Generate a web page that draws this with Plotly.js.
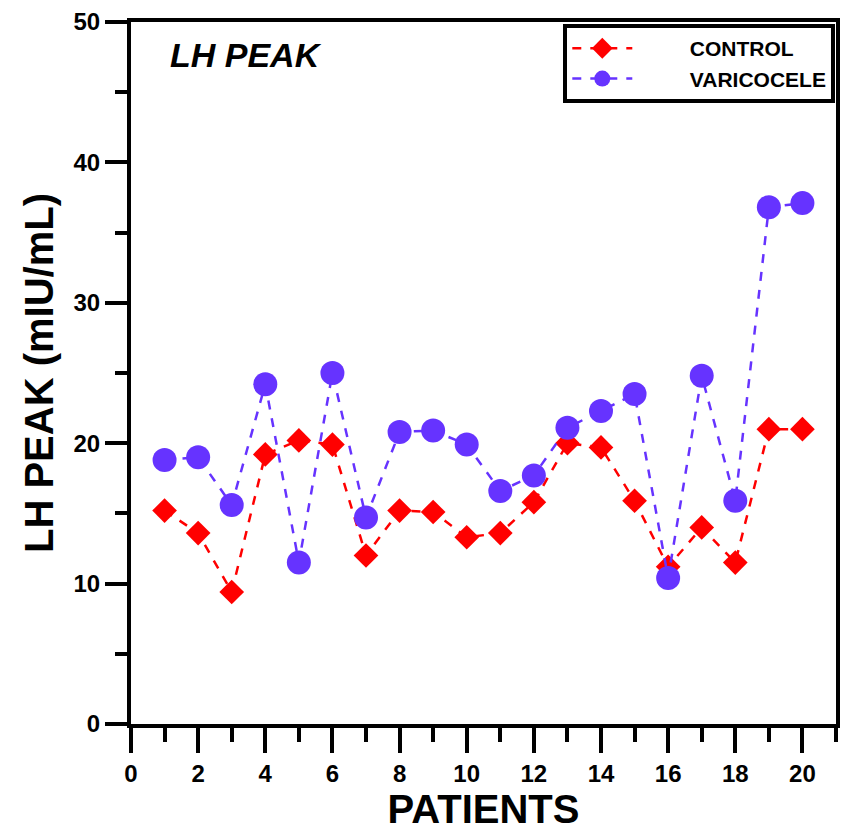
<!DOCTYPE html>
<html><head><meta charset="utf-8">
<script src="https://cdn.plot.ly/plotly-3.0.1.min.js"></script>
<style>html,body{margin:0;padding:0;background:#fff}#c{width:843px;height:831px}</style>
</head><body><div id="c"></div>
<script>
const patients = [1,2,3,4,5,6,7,8,9,10,11,12,13,14,15,16,17,18,19,20];
const control = [15.2,13.6,9.4,19.2,20.2,19.9,12.0,15.2,15.1,13.3,13.6,15.8,20.0,19.7,15.9,11.2,14.0,11.5,21.0,21.0];
const varicocele = [18.8,19.0,15.6,24.2,11.5,25.0,14.7,20.8,20.9,19.9,16.6,17.7,21.1,22.3,23.5,10.4,24.8,15.9,36.8,37.1];
const xTicks = [0,2,4,6,8,10,12,14,16,18,20];
const yTicks = [0,10,20,30,40,50];
const seriesNames = ['CONTROL', 'VARICOCELE'];

const F = "Arial, 'Liberation Sans', sans-serif";
const pad = '\u00a0'.repeat(9);
const traces = [
  {x: patients, y: control, name: pad + seriesNames[0], type: 'scatter', mode: 'lines+markers',
   line: {color: '#ff0000', width: 2.5, dash: 'dash'},
   marker: {symbol: 'diamond', size: 19, color: '#ff0000'}},
  {x: patients, y: varicocele, name: pad + seriesNames[1], type: 'scatter', mode: 'lines+markers',
   line: {color: '#6633ff', width: 2.5, dash: 'dash'},
   marker: {symbol: 'circle', size: 24, color: '#6633ff'}}
];
const layout = {
  width: 843, height: 831,
  margin: {l: 131, r: 7, t: 22, b: 107},
  paper_bgcolor: '#fff', plot_bgcolor: '#fff',
  font: {family: F, color: '#000'},
  showlegend: true,
  legend: {x: 0.999, y: 0.997, xanchor: 'right', yanchor: 'top',
    bordercolor: '#000', borderwidth: 4, bgcolor: '#fff',
    font: {family: F, size: 21, color: '#000', weight: 'bold'},
    itemwidth: 60, tracegroupgap: 0},
  xaxis: {range: [0, 21], tickvals: xTicks, ticktext: xTicks.map(String),
    showgrid: false, zeroline: false, showline: true, linewidth: 4, linecolor: '#000',
    mirror: true, ticks: 'outside', ticklen: 25, tickwidth: 4, tickcolor: '#000',
    minor: {dtick: 1, ticks: 'outside', ticklen: 14, tickwidth: 4, tickcolor: '#000', showgrid: false},
    tickfont: {family: F, size: 24, color: '#000', weight: 'bold'},
    title: {text: 'PATIENTS', font: {family: F, size: 40, color: '#000', weight: 'bold'}, standoff: 10}},
  yaxis: {range: [0, 50], tickvals: yTicks, ticktext: yTicks.map(String),
    showgrid: false, zeroline: false, showline: true, linewidth: 4, linecolor: '#000',
    mirror: true, ticks: 'outside', ticklen: 22, tickwidth: 4, tickcolor: '#000',
    minor: {dtick: 5, ticks: 'outside', ticklen: 12, tickwidth: 4, tickcolor: '#000', showgrid: false},
    tickfont: {family: F, size: 24, color: '#000', weight: 'bold'},
    title: {text: 'LH PEAK (mIU/mL)', font: {family: F, size: 40, color: '#000', weight: 'bold'}, standoff: 8}},
  annotations: [{xref: 'paper', yref: 'paper', x: 0.052, y: 0.953, xanchor: 'left', yanchor: 'middle',
    text: '<b><i>LH PEAK</i></b>', showarrow: false, font: {family: F, size: 34, color: '#000'}}]
};
Plotly.newPlot('c', traces, layout, {displayModeBar: false, staticPlot: true});
</script></body></html>
